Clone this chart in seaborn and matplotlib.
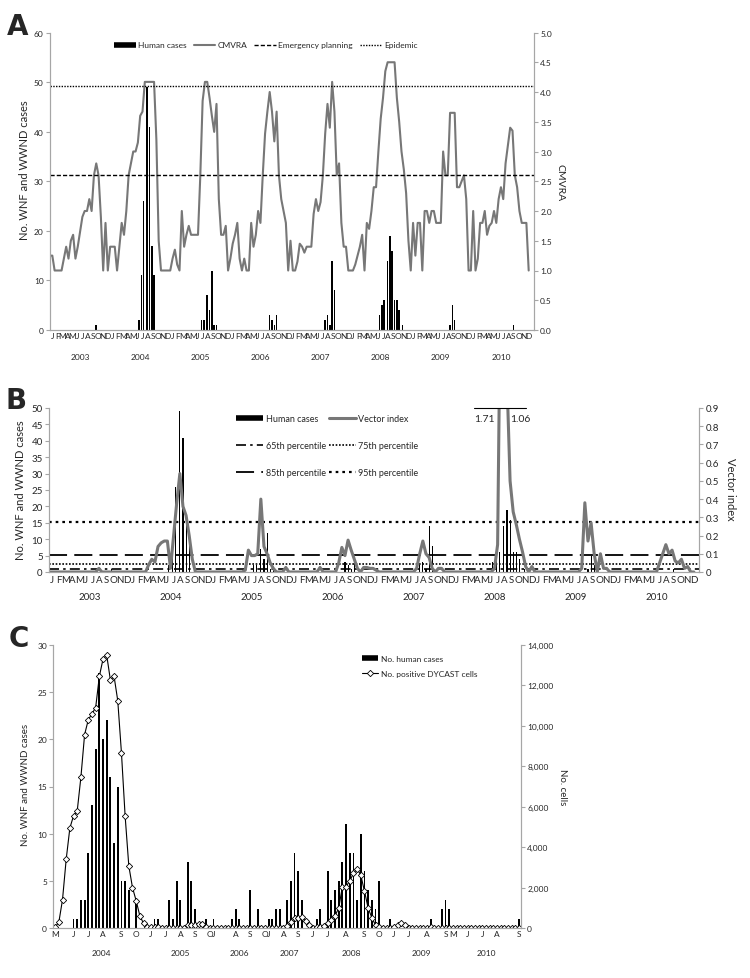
import matplotlib
matplotlib.use('Agg')
import numpy as np
import pandas as pd
import matplotlib.pyplot as plt
from matplotlib.lines import Line2D
from matplotlib.ticker import FuncFormatter
import seaborn as sns

# ---------------------------------------------------------------------------
# Data
# ---------------------------------------------------------------------------
YEARS_AB = list(range(2003, 2011))
MONTH_LETTERS = list('JFMAMJJASOND')

# weekly WNF + WWND human cases, week counted from first week of 2003 (panels A, B)
case_weeks = [40,
              77, 79, 81, 84, 86, 88, 90,
              131, 133, 136, 138, 140, 142, 144,
              190, 192, 194, 196,
              238, 240, 242, 244, 246,
              285, 287, 289, 292, 294, 296, 298, 300, 302, 305,
              346, 348, 350,
              401]
case_counts = [1,
               2, 11, 26, 49, 41, 17, 11,
               2, 2, 7, 4, 12, 1, 1,
               3, 2, 1, 3,
               2, 3, 1, 14, 8,
               3, 5, 6, 14, 19, 16, 6, 6, 4, 1,
               1, 5, 2,
               1]

# CMVRA, one value every two weeks (26 per year)
cmvra = [
    1.25, 1.25, 1.0, 1.0, 1.0, 1.0, 1.2, 1.4, 1.2, 1.5, 1.6, 1.2, 1.4,          # 2003
    1.65, 1.9, 2.0, 2.0, 2.2, 2.0, 2.6, 2.8, 2.6, 1.9, 1.0, 1.8, 1.0,
    1.4, 1.4, 1.4, 1.0, 1.4, 1.8, 1.6, 2.0, 2.6, 2.8, 3.0, 3.0, 3.15,           # 2004
    3.6, 3.67, 4.17, 4.17, 4.17, 4.17, 4.17, 3.2, 1.5, 1.0, 1.0, 1.0, 1.0,
    1.0, 1.2, 1.35, 1.1, 1.0, 2.0, 1.4, 1.6, 1.75, 1.6, 1.6, 1.6, 1.6,          # 2005
    2.6, 3.85, 4.17, 4.17, 3.9, 3.6, 3.33, 3.8, 2.2, 1.6, 1.6, 1.75, 1.0,
    1.2, 1.45, 1.6, 1.8, 1.2, 1.0, 1.2, 1.0, 1.0, 1.8, 1.4, 1.6, 2.0,           # 2006
    1.8, 2.6, 3.3, 3.67, 4.0, 3.67, 3.17, 3.67, 2.6, 2.2, 2.0, 1.8, 1.0,
    1.5, 1.0, 1.0, 1.15, 1.45, 1.4, 1.3, 1.4, 1.4, 1.4, 1.95, 2.2, 2.0,         # 2007
    2.15, 2.6, 3.3, 3.8, 3.4, 4.17, 3.67, 2.6, 2.8, 1.8, 1.4, 1.4, 1.0,
    1.0, 1.0, 1.1, 1.25, 1.4, 1.6, 1.0, 1.8, 1.7, 2.0, 2.4, 2.4, 3.0,           # 2008
    3.55, 3.9, 4.35, 4.5, 4.5, 4.5, 4.5, 3.9, 3.5, 3.0, 2.7, 2.3, 1.5,
    1.0, 1.8, 1.25, 1.8, 1.8, 1.0, 2.0, 2.0, 1.8, 2.0, 2.0, 1.8, 1.8,           # 2009
    1.8, 3.0, 2.6, 2.6, 3.65, 3.65, 3.65, 2.4, 2.4, 2.5, 2.6, 2.2, 1.0,
    1.0, 2.0, 1.0, 1.2, 1.8, 1.8, 2.0, 1.6, 1.75, 1.8, 2.0, 1.8, 2.2,           # 2010
    2.4, 2.2, 2.8, 3.1, 3.4, 3.35, 2.6, 2.4, 2.0, 1.8, 1.8, 1.8, 1.0,
]
CMVRA_EMERGENCY = 2.6
CMVRA_EPIDEMIC = 4.1

# vector index, one value every two weeks (26 per year)
vector_index = [
    0, 0, 0, 0, 0, 0, 0, 0, 0, 0, 0, 0, 0,                                      # 2003
    0, 0, 0, 0.02, 0, 0, 0, 0, 0, 0, 0, 0, 0,
    0, 0, 0, 0, 0, 0, 0.04, 0.07, 0.055, 0.14, 0.16, 0.17, 0.17,                # 2004
    0.02, 0.2, 0.38, 0.54, 0.36, 0.31, 0.2, 0.07, 0, 0, 0, 0, 0,
    0, 0, 0, 0, 0, 0, 0, 0, 0, 0, 0, 0.01, 0.12,                                # 2005
    0.09, 0.09, 0.1, 0.4, 0.14, 0.1, 0.05, 0.02, 0, 0, 0, 0.025, 0,
    0, 0, 0, 0, 0, 0, 0, 0, 0, 0.025, 0, 0, 0,                                  # 2006
    0, 0, 0.05, 0.135, 0.09, 0.175, 0.12, 0.07, 0.02, 0, 0.025, 0.025, 0.02,
    0.02, 0.01, 0, 0, 0, 0, 0, 0, 0, 0, 0, 0, 0,                                # 2007
    0, 0.02, 0.1, 0.17, 0.1, 0.08, 0.02, 0, 0.02, 0.02, 0, 0, 0,
    0, 0, 0, 0, 0, 0, 0, 0, 0, 0, 0, 0, 0,                                      # 2008
    0.02, 0.15, 1.71, 1.4, 1.06, 0.5, 0.33, 0.26, 0.18, 0.11, 0.03, 0, 0.03,
    0, 0, 0, 0, 0, 0, 0, 0, 0, 0, 0, 0, 0,                                      # 2009
    0, 0, 0.02, 0.38, 0.17, 0.27, 0.1, 0, 0.1, 0.02, 0.02, 0, 0,
    0, 0, 0, 0, 0, 0, 0, 0, 0, 0, 0, 0, 0,                                      # 2010
    0, 0.05, 0.1, 0.15, 0.1, 0.12, 0.06, 0.05, 0.07, 0.02, 0.03, 0, 0,
]
VI_P65, VI_P75, VI_P85, VI_P95 = 0.018, 0.042, 0.095, 0.277

# panel C: weekly slots of each transmission season
c_years = [2004, 2005, 2006, 2007, 2008, 2009, 2010]
c_weeks_per_year = [26, 17, 15, 12, 22, 16, 19]
c_month_labels = [list('MJJASO'), list('JJASO'), list('JASO'), list('JAS'),
                  list('JJASO'), list('JJAS'), list('MJJAS')]
c_month_offsets = [[0, 5, 9, 13, 18, 22], [0, 4, 8, 12, 16], [0, 6, 10, 14],
                   [0, 4, 8], [0, 4, 9, 14, 18], [0, 4, 9, 14], [0, 4, 8, 12, 18]]
c_cases = [
    0, 0, 0, 0, 0, 1, 1, 3, 3, 8, 13, 19, 27, 20, 22, 16, 9, 15, 5, 5, 4, 0, 3, 0, 0, 0,   # 2004
    0, 1, 1, 0, 0, 3, 1, 5, 3, 0, 7, 5, 2, 0, 0, 1, 0,                                    # 2005
    1, 0, 0, 0, 0, 1, 2, 1, 0, 0, 4, 0, 2, 0, 0,                                          # 2006
    1, 1, 2, 2, 0, 3, 5, 8, 6, 3, 0, 0,                                                   # 2007
    0, 1, 2, 0, 6, 3, 4, 5, 7, 11, 8, 8, 3, 10, 6, 4, 3, 2, 5, 0, 0, 1,                   # 2008
    0, 0, 0, 0, 0, 0, 0, 0, 0, 0, 1, 0, 0, 2, 3, 2,                                       # 2009
    0, 0, 0, 0, 0, 0, 0, 0, 0, 0, 0, 0, 0, 0, 0, 0, 0, 0, 1,                              # 2010
]
c_cells = [
    50, 280, 1400, 3400, 4950, 5550, 5800, 7470, 9570, 10300, 10600, 10900, 12450,
    13300, 13500, 12270, 12450, 11250, 8680, 5550, 3080, 2000, 1350, 600, 230, 50,         # 2004
    50, 50, 50, 0, 0, 0, 0, 0, 0, 0, 160, 160, 140, 190, 190, 50, 0,                       # 2005
    0, 0, 0, 0, 0, 0, 0, 0, 0, 0, 0, 0, 0, 0, 0,                                           # 2006
    0, 0, 0, 0, 0, 90, 280, 470, 510, 560, 330, 140,                                       # 2007
    0, 25, 50, 90, 230, 420, 610, 980, 2050, 2050, 2330, 2700, 2940, 2610, 1820,
    980, 510, 140, 25, 0, 0, 0,                                                            # 2008
    50, 140, 250, 160, 20, 0, 0, 0, 0, 0, 50, 0, 0, 0, 0, 0,                               # 2009
    0, 0, 0, 0, 0, 0, 0, 0, 0, 0, 0, 0, 0, 0, 0, 0, 0, 0, 0,                               # 2010
]

# ---------------------------------------------------------------------------
sns.set_style('white')
plt.rcParams['font.family'] = ['Lato', 'DejaVu Sans']

AXIS_GREY = '#a6a6a6'
LINE_GREY = '#777777'
W, H = 750, 979

fig = plt.figure(figsize=(7.5, 9.79), dpi=100)


def px_axes(x0, y0, x1, y1):
    return fig.add_axes([x0 / W, 1 - y1 / H, (x1 - x0) / W, (y1 - y0) / H])


def style_pair(ax, ax2, fs):
    for a in (ax, ax2):
        a.spines['top'].set_visible(False)
        for s in ('left', 'right', 'bottom'):
            a.spines[s].set_color(AXIS_GREY)
            a.spines[s].set_linewidth(0.8)
        a.tick_params(axis='y', length=3, width=0.8, color=AXIS_GREY,
                      labelsize=fs, pad=1.5)
        a.set_xlabel('')


def year_axis(ax, bounds, centers, labels, minor_pos, minor_lab, sep_len,
              fs, year_y, pad):
    ax.set_xticks(bounds)
    ax.set_xticklabels([])
    ax.set_xticks(minor_pos, minor=True)
    ax.set_xticklabels(minor_lab, minor=True)
    ax.tick_params(axis='x', which='major', length=sep_len, width=0.8,
                   color=AXIS_GREY)
    ax.tick_params(axis='x', which='minor', length=0, labelsize=fs, pad=pad)
    for c, lab in zip(centers, labels):
        ax.text(c, year_y, str(lab), transform=ax.get_xaxis_transform(),
                ha='center', va='center', fontsize=fs)


cases_df = pd.DataFrame({'week': case_weeks, 'cases': case_counts})
cm_df = pd.DataFrame({'week': np.arange(len(cmvra)) * 2, 'cmvra': cmvra})
vi_df = pd.DataFrame({'week': np.arange(len(vector_index)) * 2,
                      'vi': vector_index})

n_weeks = 52 * len(YEARS_AB)
year_bounds = [52 * i for i in range(len(YEARS_AB) + 1)]
year_centers = [52 * i + 26 for i in range(len(YEARS_AB))]
month_pos = [52 * y + (m + 0.5) * 52 / 12 for y in range(len(YEARS_AB))
             for m in range(12)]
month_lab = MONTH_LETTERS * len(YEARS_AB)

# ---------------------------------------------------------------- panel A
axA = px_axes(50, 33.5, 534, 331)
axA.bar(cases_df['week'], cases_df['cases'], width=1.3, color='black',
        linewidth=0)
axA2 = axA.twinx()
sns.lineplot(data=cm_df, x='week', y='cmvra', ax=axA2, color=LINE_GREY,
             lw=1.5)
axA2.axhline(CMVRA_EMERGENCY, color='black', lw=1, ls=(0, (3, 1.5)))
axA2.axhline(CMVRA_EPIDEMIC, color='black', lw=1, ls=(0, (1, 1)))
axA.set_ylim(0, 60)
axA.set_yticks(range(0, 61, 10))
axA2.set_ylim(0, 5)
axA2.set_yticks(np.arange(0, 5.01, 0.5))
axA2.yaxis.set_major_formatter(FuncFormatter(lambda v, p: f'{v:.1f}'))
style_pair(axA, axA2, 6)
axA.set_xlim(0, n_weeks * 484 / 481)
year_axis(axA, year_bounds, year_centers, YEARS_AB, month_pos, month_lab,
          22, 6, -0.0875, 1.5)
axA.set_ylabel('No. WNF and WWND cases', fontsize=8, va='center')
axA.yaxis.set_label_coords(-0.0537, 0.54)
axA2.set_ylabel('CMVRA', fontsize=7.5, rotation=270, va='center')
axA2.yaxis.set_label_coords(1.054, 0.5)
hA = [Line2D([], [], color='black', lw=4, solid_capstyle='butt'),
      Line2D([], [], color=LINE_GREY, lw=1.5),
      Line2D([], [], color='black', lw=1, ls=(0, (3, 1.5))),
      Line2D([], [], color='black', lw=1, ls=(0, (1, 1)))]
axA2.legend(hA, ['Human cases', 'CMVRA', 'Emergency planning', 'Epidemic'],
            ncol=4, loc='center', bbox_to_anchor=(0.446, 0.958),
            frameon=False, fontsize=6, handlelength=2.6, handletextpad=0.3,
            columnspacing=0.8)

# ---------------------------------------------------------------- panel B
axB = px_axes(49, 409, 699, 573)
axB.bar(cases_df['week'], cases_df['cases'], width=0.7, color='black',
        linewidth=0)
axB2 = axB.twinx()
pct_styles = [(VI_P65, (0, (6, 2.5, 1.5, 2.5)), 1.2),
              (VI_P75, (0, (1, 1)), 1.2),
              (VI_P85, (0, (10, 4)), 1.3),
              (VI_P95, (0, (1.2, 1.8)), 1.6)]
for val, ls, lw in pct_styles:
    axB2.axhline(val, color='black', lw=lw, ls=ls)
sns.lineplot(data=vi_df, x='week', y='vi', ax=axB2, color=LINE_GREY, lw=2.2)
axB.set_ylim(0, 50)
axB.set_yticks(range(0, 51, 5))
axB2.set_ylim(0, 0.9)
axB2.set_yticks(np.arange(0, 0.91, 0.1))
axB2.yaxis.set_major_formatter(
    FuncFormatter(lambda v, p: '0' if abs(v) < 1e-9 else f'{v:.1f}'))
style_pair(axB, axB2, 7)
axB.set_xlim(0, n_weeks * 650 / 648)
year_axis(axB, year_bounds, year_centers, YEARS_AB, month_pos, month_lab,
          21.5, 7, -0.152, 2.5)
axB.set_ylabel('No. WNF and WWND cases', fontsize=8, va='center')
axB.yaxis.set_label_coords(-0.0446, 0.506)
axB2.set_ylabel('Vector index', fontsize=8, rotation=270, va='center')
axB2.yaxis.set_label_coords(1.048, 0.51)

# values of the peak cut off at the top of the scale
over = vi_df[vi_df['vi'] > 0.9]
axB2.plot([over['week'].min() - 17, over['week'].max() + 12], [0.9, 0.9],
          color='black', lw=0.8, clip_on=False)
axB2.text(over['week'].min() - 4, 0.84, f"{over['vi'].iloc[0]:.2f}",
          ha='right', va='center', fontsize=7.5)
axB2.text(over['week'].max() + 2, 0.84, f"{over['vi'].iloc[-1]:.2f}",
          ha='left', va='center', fontsize=7.5)

hB = [Line2D([], [], color='black', lw=4, solid_capstyle='butt'),
      Line2D([], [], color='black', lw=1.2, ls=(0, (6, 2.5, 1.5, 2.5))),
      Line2D([], [], color='black', lw=1.3, ls=(0, (10, 4))),
      Line2D([], [], color=LINE_GREY, lw=2.2),
      Line2D([], [], color='black', lw=1.2, ls=(0, (1, 1))),
      Line2D([], [], color='black', lw=1.6, ls=(0, (1.2, 1.8)))]
lB = ['Human cases', '65th percentile', '85th percentile', 'Vector index',
      '75th percentile', '95th percentile']
axB2.legend(hB, lB, ncol=2, loc='center', bbox_to_anchor=(0.428, 0.771),
            frameon=False, fontsize=6.5, handlelength=3.0, handletextpad=0.3,
            columnspacing=0.3, labelspacing=2.0)

# ---------------------------------------------------------------- panel C
axC = px_axes(53.3, 646, 521, 929)
c_df = pd.DataFrame({'slot': np.arange(len(c_cases)), 'cases': c_cases,
                     'cells': c_cells})
sns.barplot(data=c_df, x='slot', y='cases', ax=axC, color='black', width=0.5,
            saturation=1, linewidth=0, edgecolor='black')
axC2 = axC.twinx()
sns.lineplot(data=c_df, x='slot', y='cells', ax=axC2, color='black', lw=0.8,
             marker='D', markersize=3.2, markerfacecolor='white',
             markeredgecolor='black', markeredgewidth=0.6)
axC.set_ylim(0, 30)
axC.set_yticks(range(0, 31, 5))
axC2.set_ylim(0, 14000)
axC2.set_yticks(range(0, 14001, 2000))
axC2.yaxis.set_major_formatter(FuncFormatter(lambda v, p: f'{int(v):,}'))
style_pair(axC, axC2, 6)
starts = np.concatenate([[0], np.cumsum(c_weeks_per_year)[:-1]])
c_bounds = list(starts - 0.5) + [sum(c_weeks_per_year) - 0.5]
c_centers = [s - 0.5 + n / 2 for s, n in zip(starts, c_weeks_per_year)]
c_minor = [s + o for s, offs in zip(starts, c_month_offsets) for o in offs]
c_minor_lab = [m for labs in c_month_labels for m in labs]
axC.set_xlim(-0.5, sum(c_weeks_per_year) - 0.5)
year_axis(axC, c_bounds, c_centers, c_years, c_minor, c_minor_lab,
          20, 6, -0.085, 1.5)
axC.set_ylabel('No. WNF and WWND cases', fontsize=7, va='center')
axC.yaxis.set_label_coords(-0.0605, 0.509)
axC2.set_ylabel('No. cells', fontsize=7, rotation=270, va='center')
axC2.yaxis.set_label_coords(1.0877, 0.5)
hC = [Line2D([], [], color='black', lw=4, solid_capstyle='butt'),
      Line2D([], [], color='black', lw=0.8, marker='D', markersize=3.2,
             markerfacecolor='white', markeredgecolor='black',
             markeredgewidth=0.6)]
axC2.legend(hC, ['No. human cases', 'No. positive DYCAST cells'],
            loc='center', bbox_to_anchor=(0.783, 0.926), frameon=False,
            fontsize=6, handlelength=2.0, handletextpad=0.3,
            labelspacing=1.0)

# panel letters
for letter, x, y in [('A', 7, 35), ('B', 5, 409), ('C', 9, 647)]:
    fig.text(x / W, 1 - y / H, letter, fontsize=20, fontweight='bold',
             family='DejaVu Sans', va='baseline', ha='left')

fig.savefig('out.png', dpi=100)
